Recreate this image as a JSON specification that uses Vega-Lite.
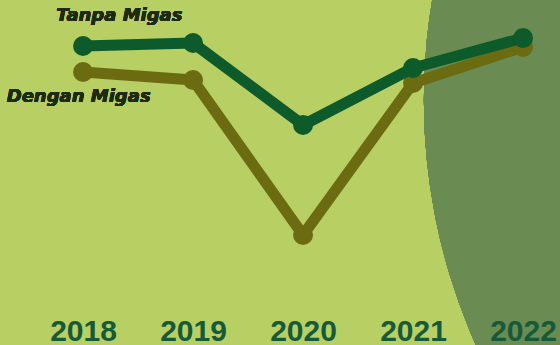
{
  "$schema": "https://vega.github.io/schema/vega-lite/v6.json",
  "width": 560,
  "height": 345,
  "autosize": {"type": "none"},
  "padding": 0,
  "background": "#b8cf64",
  "config": {"view": {"stroke": null}},
  "data": {"values": [
    {"tahun": 2018, "nilai": 299, "seri": "Tanpa Migas"},
    {"tahun": 2019, "nilai": 302, "seri": "Tanpa Migas"},
    {"tahun": 2020, "nilai": 220, "seri": "Tanpa Migas"},
    {"tahun": 2021, "nilai": 277, "seri": "Tanpa Migas"},
    {"tahun": 2022, "nilai": 307, "seri": "Tanpa Migas"},
    {"tahun": 2018, "nilai": 273, "seri": "Dengan Migas"},
    {"tahun": 2019, "nilai": 265, "seri": "Dengan Migas"},
    {"tahun": 2020, "nilai": 110, "seri": "Dengan Migas"},
    {"tahun": 2021, "nilai": 262, "seri": "Dengan Migas"},
    {"tahun": 2022, "nilai": 298, "seri": "Dengan Migas"}
  ]},
  "encoding": {
    "x": {"field": "tahun", "type": "quantitative",
      "scale": {"domain": [2017.245, 2022.336], "nice": false, "zero": false},
      "axis": {"values": [2018, 2019, 2020, 2021, 2022], "format": "d", "title": null, "zindex": 1,
        "domain": false, "ticks": false, "grid": false, "offset": -27, "labelPadding": -2,
        "labelFont": "Liberation Sans", "labelFontWeight": "bold", "labelFontSize": 30,
        "labelColor": "#155a3a", "labelFlush": false, "labelOverlap": false}},
    "y": {"field": "nilai", "type": "quantitative",
      "scale": {"domain": [0, 345], "nice": false, "zero": false}, "axis": null}
  },
  "layer": [
    {
      "mark": {"type": "point", "shape": "circle", "filled": true, "opacity": 1, "color": "#6a8b52", "clip": true, "size": 1454436},
      "encoding": {"x": {"datum": 2026.58}, "y": {"datum": 245}}
    },
    {
      "transform": [{"filter": "datum.seri === 'Dengan Migas'"}],
      "mark": {"type": "line", "color": "#6b6b12", "strokeWidth": 11, "strokeJoin": "round", "strokeCap": "round"}
    },
    {
      "transform": [{"filter": "datum.seri === 'Dengan Migas'"}],
      "mark": {"type": "point", "shape": "circle", "filled": true, "opacity": 1, "color": "#6b6b12", "size": 400}
    },
    {
      "transform": [{"filter": "datum.seri === 'Tanpa Migas'"}],
      "mark": {"type": "line", "color": "#0d5a2a", "strokeWidth": 11, "strokeJoin": "round", "strokeCap": "round"}
    },
    {
      "transform": [{"filter": "datum.seri === 'Tanpa Migas'"}],
      "mark": {"type": "point", "shape": "circle", "filled": true, "opacity": 1, "color": "#0d5a2a", "size": 400}
    },
    {
      "mark": {"type": "text", "text": "Tanpa Migas", "font": "DejaVu Sans", "fontWeight": "bold", "fontStyle": "italic", "fontSize": 18, "color": "#1e2a14", "align": "center", "baseline": "middle"},
      "encoding": {"x": {"datum": 2018.33}, "y": {"datum": 329}}
    },
    {
      "mark": {"type": "text", "text": "Dengan Migas", "font": "DejaVu Sans", "fontWeight": "bold", "fontStyle": "italic", "fontSize": 18, "color": "#1e2a14", "align": "center", "baseline": "middle"},
      "encoding": {"x": {"datum": 2017.96}, "y": {"datum": 248}}
    }
  ]
}
